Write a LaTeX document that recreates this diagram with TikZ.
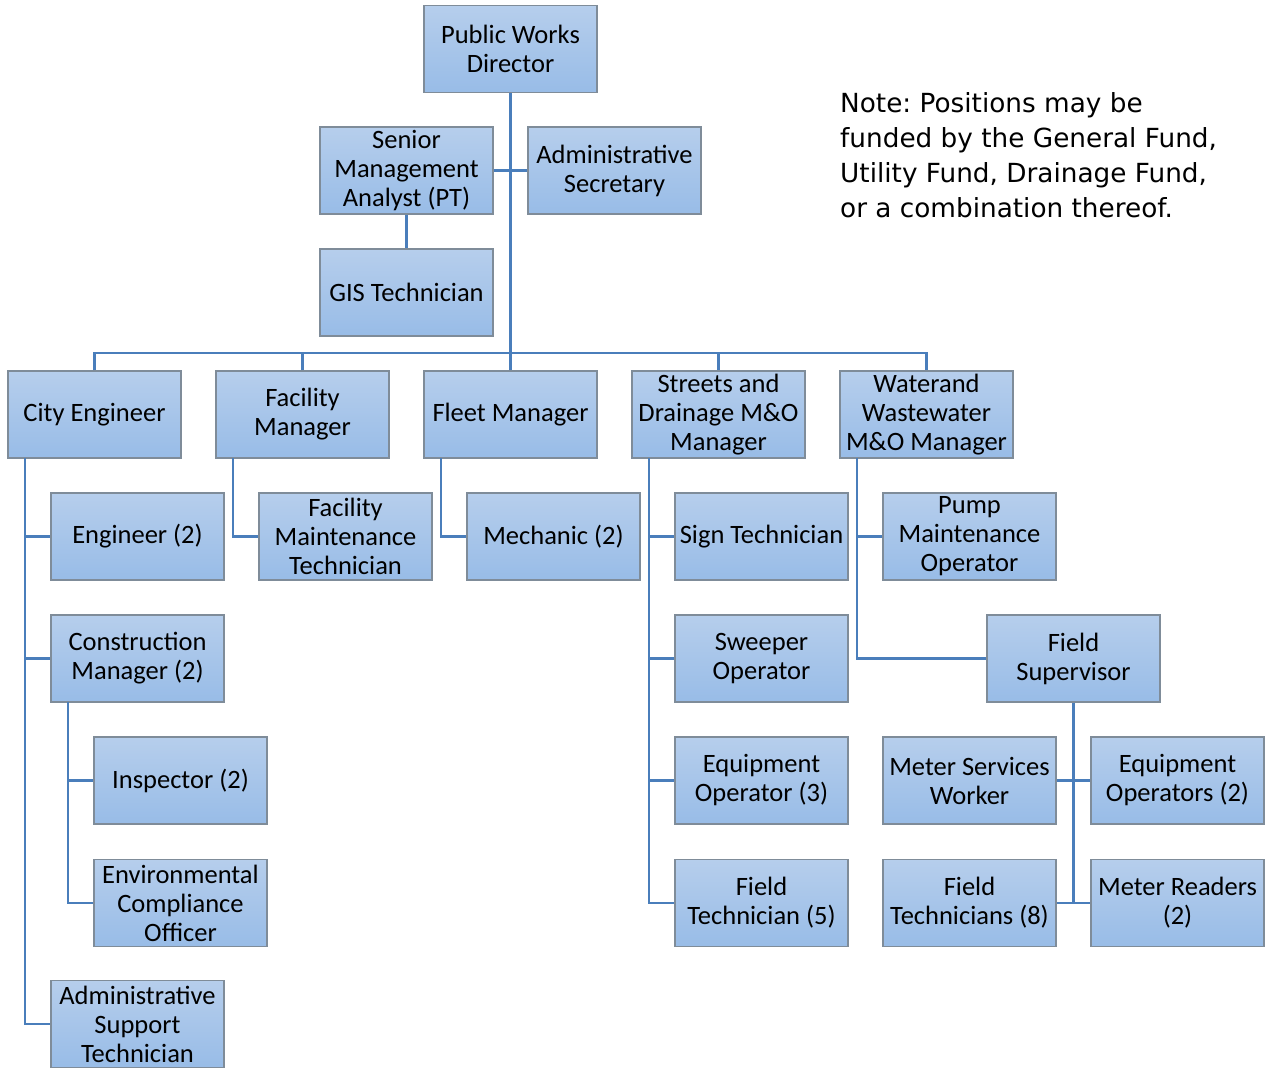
\documentclass[tikz,border=0pt]{standalone}
\usepackage{fontspec}
\setmainfont{Carlito}
\newfontfamily\notefont{DejaVu Sans}
\frenchspacing
\begin{document}
\definecolor{boxtop}{HTML}{B6CEEC}
\definecolor{boxbot}{HTML}{98BCE7}
\definecolor{boxedge}{HTML}{7F8C99}
\definecolor{linkblue}{HTML}{4A7EBB}
\tikzset{
  post/.style={minimum width=173pt, minimum height=87pt, inner sep=2pt,
    top color=boxtop, bottom color=boxbot, draw=boxedge, line width=1.2pt,
    align=center, font=\fontsize{26.5}{29}\selectfont},
  link/.style={draw=linkblue, line width=2.8pt}
}
\begin{tikzpicture}[x=1pt,y=-1pt]
\useasboundingbox (0,0) rectangle (1270,1068);
% top of the chart
\node[post] (dir) at (510.5,49) {Public Works\\Director};
\node[post] (sma) at (406.5,170.5) {Senior\\Management\\Analyst (PT)};
\node[post] (as) at (614.5,170.5) {Administrative\\Secretary};
\node[post] (gis) at (406.5,292.5) {GIS Technician};
% managers
\node[post] (ce) at (94.5,414.5) {City Engineer};
\node[post] (fm) at (302.5,414.5) {Facility\\Manager};
\node[post] (flm) at (510.5,414.5) {Fleet Manager};
\node[post] (sd) at (718.5,414.5) {Streets and\\Drainage M\&O\\Manager};
\node[post] (ww) at (926.5,414.5) {Waterand\\Wastewater\\M\&O Manager};
% staff
\node[post] (eng) at (137.5,536.5) {Engineer (2)};
\node[post] (fmt) at (345.5,536.5) {Facility\\Maintenance\\Technician};
\node[post] (mech) at (553.5,536.5) {Mechanic (2)};
\node[post] (sign) at (761.5,536.5) {Sign Technician};
\node[post] (pump) at (969.5,536.5) {Pump\\Maintenance\\Operator};
\node[post] (cm) at (137.5,658.5) {Construction\\Manager (2)};
\node[post] (swp) at (761.5,658.5) {Sweeper\\Operator};
\node[post] (fs) at (1073.5,658.5) {Field\\Supervisor};
\node[post] (insp) at (180.5,780.5) {Inspector (2)};
\node[post] (eq3) at (761.5,780.5) {Equipment\\Operator (3)};
\node[post] (msw) at (969.5,780.5) {Meter Services\\Worker};
\node[post] (eq2) at (1177.5,780.5) {Equipment\\Operators (2)};
\node[post] (env) at (180.5,903) {Environmental\\Compliance\\Officer};
\node[post] (ft5) at (761.5,903) {Field\\Technician (5)};
\node[post] (ft8) at (969.5,903) {Field\\Technicians (8)};
\node[post] (mr) at (1177.5,903) {Meter Readers\\(2)};
\node[post] (ast) at (137.5,1024) {Administrative\\Support\\Technician};
% note (anchored on the baseline of its last line)
\node[anchor=base west, align=left, inner sep=0pt,
  font=\notefont\fontsize{26.3}{35}\selectfont] (note) at (840,217)
  {Note: Positions may be\\funded by the General Fund,\\Utility Fund, Drainage Fund,\\or a combination thereof.};
% reporting lines
\coordinate (bus) at (510.5,353);
\draw[link] (dir.south) -- (bus);
\draw[link] (sma.east) -- (as.west);
\draw[link] (sma.south) -- (gis.north);
\draw[link] (ce.north) |- (bus) -| (ww.north);
\draw[link] (fm.north) -- (fm.north |- bus);
\draw[link] (flm.north) -- (bus);
\draw[link] (sd.north) -- (sd.north |- bus);
% City Engineer branch
\coordinate (ceL) at (25,458);
\draw[link] (ceL) |- (ast.west);
\draw[link] (ceL |- eng.west) -- (eng.west);
\draw[link] (ceL |- cm.west) -- (cm.west);
\coordinate (cmL) at (68,702);
\draw[link] (cmL) |- (env.west);
\draw[link] (cmL |- insp.west) -- (insp.west);
% Facility and fleet
\coordinate (fmL) at (233,458);
\draw[link] (fmL) |- (fmt.west);
\coordinate (flL) at (441,458);
\draw[link] (flL) |- (mech.west);
% Streets and drainage
\coordinate (sdL) at (649,458);
\draw[link] (sdL) |- (ft5.west);
\draw[link] (sdL |- sign.west) -- (sign.west);
\draw[link] (sdL |- swp.west) -- (swp.west);
\draw[link] (sdL |- eq3.west) -- (eq3.west);
% Water and wastewater
\coordinate (wwL) at (857,458);
\draw[link] (wwL) |- (fs.west);
\draw[link] (wwL |- pump.west) -- (pump.west);
% Field supervisor
\coordinate (fsB) at (1073.5,903);
\draw[link] (fs.south) -- (fsB);
\draw[link] (msw.east) -- (eq2.west);
\draw[link] (ft8.east) -- (mr.west);
\end{tikzpicture}
\end{document}
